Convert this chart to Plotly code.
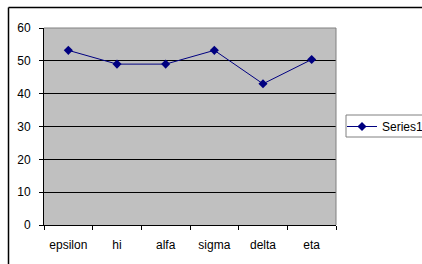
import plotly.graph_objects as go

categories = ["epsilon", "hi", "alfa", "sigma", "delta", "eta"]
values = [53.2, 49.0, 49.0, 53.2, 43.0, 50.4]
series_name = "Series1"
y_ticks = [0, 10, 20, 30, 40, 50, 60]

L, R, T, B = 44, 86, 28, 39
W, H = 422, 264
pw, ph = W - L - R, H - T - B

def px(x):
    return (x - L) / pw

def py(y):
    return 1 - (y - T) / ph

fig = go.Figure()
fig.add_trace(go.Scatter(
    x=categories, y=values, name=series_name, mode="lines+markers",
    line=dict(color="#000080", width=1),
    marker=dict(symbol="diamond", size=7, color="#000080"),
    showlegend=True,
))

fig.update_layout(
    width=W, height=H,
    margin=dict(l=L, r=R, t=T, b=B, pad=0, autoexpand=False),
    paper_bgcolor="white",
    plot_bgcolor="#C0C0C0",
    font=dict(family="Liberation Sans, Arial, sans-serif", size=12, color="black"),
    xaxis=dict(
        type="category", range=[-0.5, 5.5], tickson="boundaries",
        ticks="outside", ticklen=4, tickcolor="black", tickwidth=1,
        showline=True, linecolor="black", linewidth=1,
        showgrid=False, zeroline=False, fixedrange=True, automargin=False,
        ticklabelstandoff=9,
    ),
    yaxis=dict(
        range=[0, 60], tickvals=y_ticks,
        ticks="outside", ticklen=4, tickcolor="black", tickwidth=1,
        showline=True, linecolor="black", linewidth=1,
        showgrid=True, gridcolor="black", gridwidth=1,
        zeroline=False, fixedrange=True, automargin=False,
        ticklabelstandoff=6,
    ),
    legend=dict(
        x=px(342), y=py(112), xanchor="left", yanchor="top",
        bgcolor="rgba(0,0,0,0)", borderwidth=0,
        font=dict(size=12), itemwidth=30,
    ),
    shapes=[
        # outer chart frame
        dict(type="line", xref="paper", yref="paper",
             x0=px(8.5), x1=px(430), y0=py(7.5), y1=py(7.5),
             line=dict(color="black", width=1.5), layer="above"),
        dict(type="line", xref="paper", yref="paper",
             x0=px(8.5), x1=px(8.5), y0=py(7.5), y1=py(270),
             line=dict(color="black", width=1.5), layer="above"),
        # legend box
        dict(type="rect", xref="paper", yref="paper",
             x0=px(346), x1=px(440), y0=py(137), y1=py(115),
             line=dict(color="#808080", width=1), fillcolor="white", layer="below"),
        # gray top/right border of plot area
        dict(type="line", xref="paper", yref="paper", x0=0, x1=1, y0=1, y1=1,
             line=dict(color="#808080", width=1)),
        dict(type="line", xref="paper", yref="paper", x0=1, x1=1, y0=0, y1=1,
             line=dict(color="#808080", width=1)),
    ],
)

fig.write_html("out.html", config={"displayModeBar": False},
               post_script="document.body.style.margin='0';")
